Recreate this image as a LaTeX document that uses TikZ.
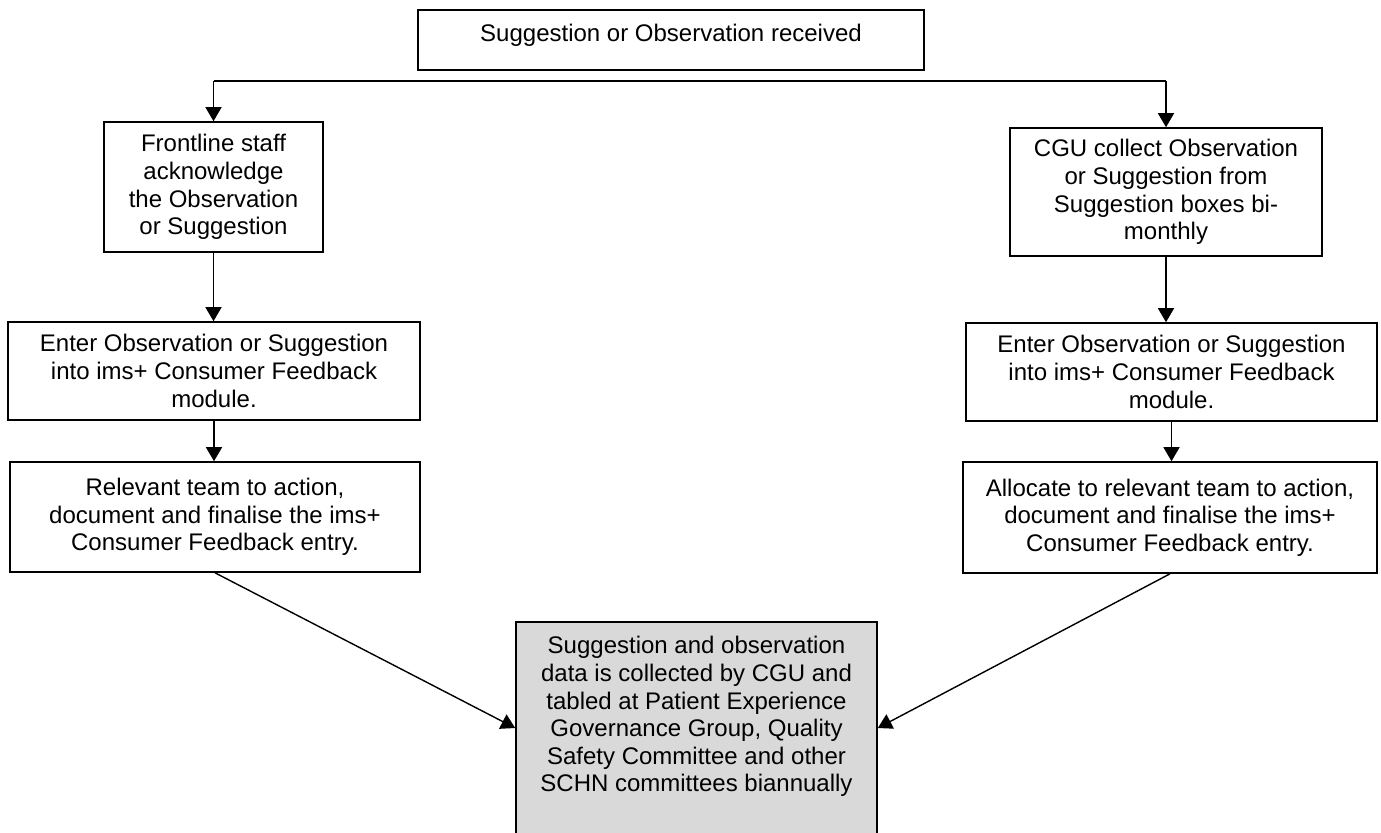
\documentclass[tikz,border=0pt]{standalone}
\usepackage{fontspec}
\setmainfont{Liberation Sans}
\usetikzlibrary{arrows.meta}

\begin{document}
\begin{tikzpicture}[x=0.5pt, y=-0.5pt,
  box/.style={draw, line width=0.8pt, inner sep=2pt, align=center,
    font={\fontsize{12pt}{13.8pt}\selectfont}},
  link/.style={line width=0.7pt, -{Triangle[length=7pt,width=8pt]}}]
  \useasboundingbox (0,0) rectangle (1381,832);

  \node[box, minimum width=253pt, minimum height=30pt, text depth=7.5pt] (recv) at (671,40)
    {Suggestion or Observation received};

  % left branch
  \node[box, minimum width=109.5pt, minimum height=65pt] (front) at (213.5,187)
    {Frontline staff\\ acknowledge\\ the Observation\\ or Suggestion};
  \node[box, minimum width=206pt, minimum height=49pt] (enterL) at (214,371)
    {Enter Observation or Suggestion\\ into ims+ Consumer Feedback\\ module.};
  \node[box, minimum width=205pt, minimum height=55pt] (actL) at (215,517)
    {Relevant team to action,\\ document and finalise the ims+\\ Consumer Feedback entry.};

  % right branch
  \node[box, minimum width=156pt, minimum height=64pt] (cgu) at (1166,192)
    {CGU collect Observation\\ or Suggestion from\\ Suggestion boxes bi-\\ monthly};
  \node[box, minimum width=205.5pt, minimum height=49pt] (enterR) at (1171.5,372)
    {Enter Observation or Suggestion\\ into ims+ Consumer Feedback\\ module.};
  \node[box, minimum width=207pt, minimum height=55.5pt] (actR) at (1170,517.5)
    {Allocate to relevant team to action,\\ document and finalise the ims+\\ Consumer Feedback entry.};

  \node[box, fill={rgb,255:red,217;green,217;blue,217}, minimum width=180.5pt, minimum height=106pt] (data) at (696.5,728)
    {Suggestion and observation\\ data is collected by CGU and\\ tabled at Patient Experience\\ Governance Group, Quality\\ Safety Committee and other\\ SCHN committees biannually\\ \mbox{}};

  \coordinate (splitL) at (213.5,81);
  \coordinate (splitR) at (1166,81);

  \draw[line width=0.7pt] (splitL) -- (splitR);
  \draw[link] (splitL) -- (front);
  \draw[link] (splitR) -- (cgu);

  \draw[link] (front.south) -- (front.south |- enterL.north);
  \draw[link] (enterL.south) -- (enterL.south |- actL.north);
  \draw[link] (cgu.south) -- (cgu.south |- enterR.north);
  \draw[link] (enterR.south) -- (enterR.south |- actR.north);

  \draw[link] (actL.south) -- (data.west);
  \draw[link] (actR.south) -- (data.east);
\end{tikzpicture}
\end{document}
